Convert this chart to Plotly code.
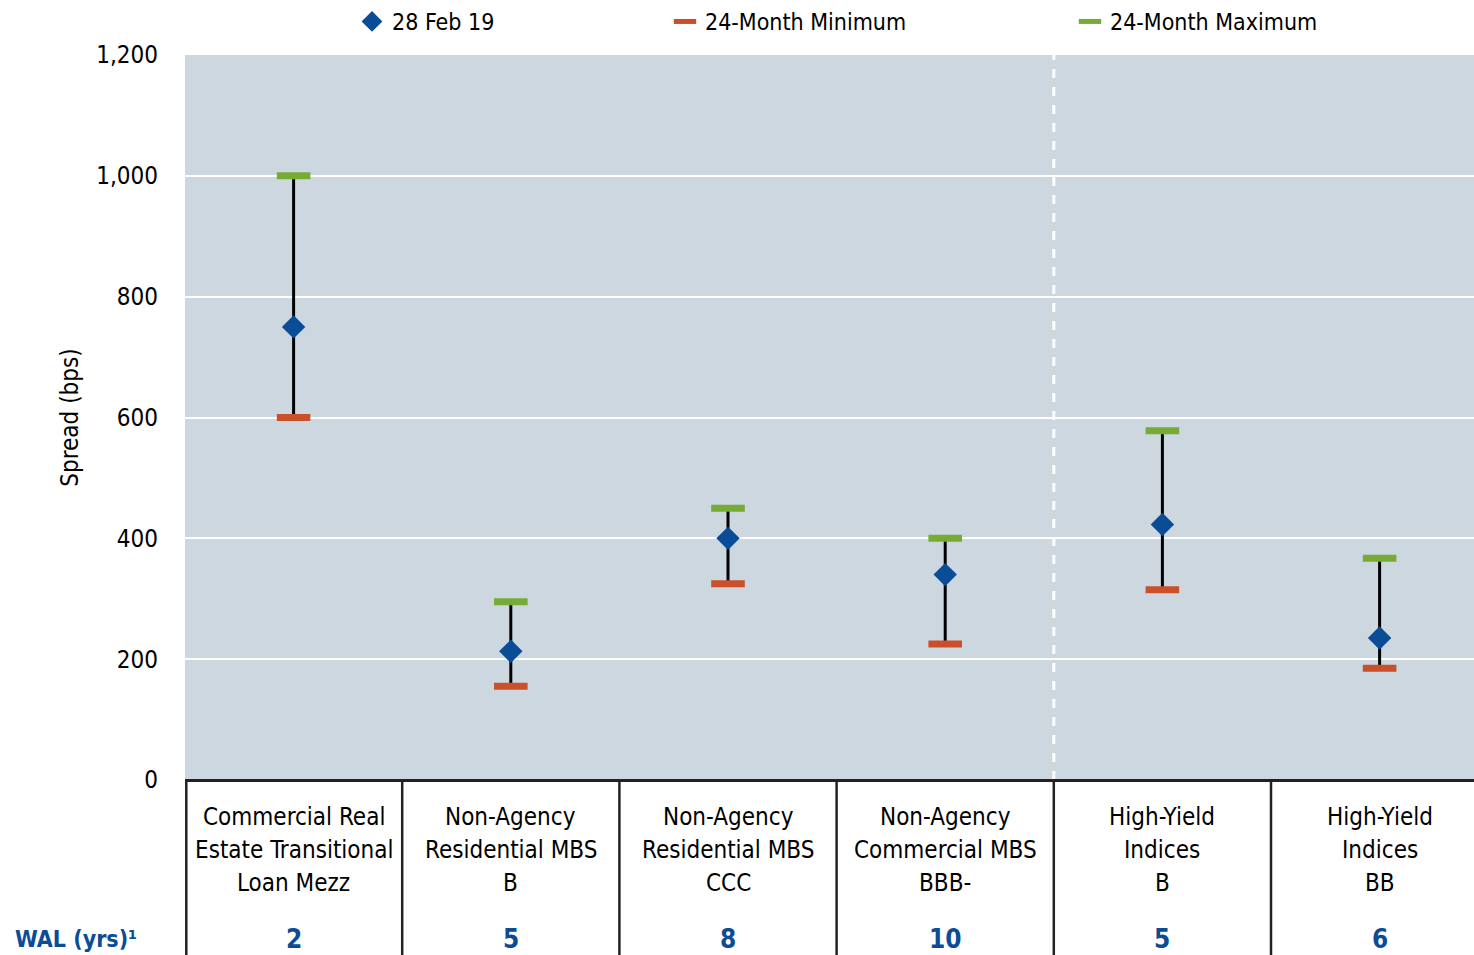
import plotly.graph_objects as go

categories = [
    ["Commercial Real", "Estate Transitional", "Loan Mezz"],
    ["Non-Agency", "Residential MBS", "B"],
    ["Non-Agency", "Residential MBS", "CCC"],
    ["Non-Agency", "Commercial MBS", "BBB-"],
    ["High-Yield", "Indices", "B"],
    ["High-Yield", "Indices", "BB"],
]
wal_years = ["2", "5", "8", "10", "5", "6"]
current_feb19 = [750, 213, 400, 340, 423, 235]
min_24m = [600, 155, 325, 225, 315, 185]
max_24m = [1000, 295, 450, 400, 578, 367]
y_ticks = [0, 200, 400, 600, 800, 1000, 1200]

FONT = "Liberation Sans Narrow, Arial Narrow, DejaVu Sans Condensed, sans-serif"
BLUE = "#0B4C96"
GREEN = "#76AB35"
ORANGE = "#C9502B"
BG = "#CCD7E0"

xs = list(range(len(categories)))

fig = go.Figure()

# range lines
lx, ly = [], []
for i in xs:
    lx += [i, i, None]
    ly += [min_24m[i], max_24m[i], None]
fig.add_trace(go.Scatter(x=lx, y=ly, mode="lines", line=dict(color="black", width=3),
                         showlegend=False, hoverinfo="skip"))

fig.add_trace(go.Scatter(x=xs, y=min_24m, mode="markers", name="24-Month Minimum",
                         marker=dict(symbol="line-ew", size=24, line=dict(color=ORANGE, width=7)),
                         legend="legend2"))
fig.add_trace(go.Scatter(x=xs, y=max_24m, mode="markers", name="24-Month Maximum",
                         marker=dict(symbol="line-ew", size=24, line=dict(color=GREEN, width=7)),
                         legend="legend3"))
fig.add_trace(go.Scatter(x=xs, y=current_feb19, mode="markers", name="28 Feb 19",
                         marker=dict(symbol="diamond", size=18, color=BLUE),
                         legend="legend"))

L, R, T, B = 185, 0, 55, 175
W, H = 1474, 955
plot_w = W - L - R
plot_h = H - T - B
unit = 217.2
x_end = -0.5 + plot_w / unit

def px_to_paper_y(p):
    return (H - B - p) / plot_h

shapes = []
# separators below axis
for i in range(len(categories)):
    shapes.append(dict(type="line", xref="x" if i > 0 else "paper", yref="paper",
                       x0=(i - 0.5) if i > 0 else 0.001, x1=(i - 0.5) if i > 0 else 0.001,
                       y0=0, y1=px_to_paper_y(H), line=dict(color="#222222", width=2.5)))
# dashed divider between securitized products and high-yield indices
shapes.append(dict(type="line", xref="x", yref="paper", x0=3.5, x1=3.5, y0=0, y1=1,
                   line=dict(color="white", width=3, dash="dash"), layer="below"))

annotations = []
line_y = [817, 850, 883]
for i, lines in enumerate(categories):
    for j, t in enumerate(lines):
        annotations.append(dict(x=i, y=px_to_paper_y(line_y[j]), xref="x", yref="paper",
                                text=t, showarrow=False, xanchor="center", yanchor="middle",
                                font=dict(family=FONT, size=24, color="black")))
    annotations.append(dict(x=i, y=px_to_paper_y(939), xref="x", yref="paper",
                            text="<b>" + wal_years[i] + "</b>", showarrow=False,
                            xanchor="center", yanchor="middle",
                            font=dict(family=FONT, size=26, color=BLUE)))
annotations.append(dict(x=(13 - L) / plot_w, y=px_to_paper_y(939), xref="paper", yref="paper",
                        text="<b>WAL (yrs)¹</b>", showarrow=False, xanchor="left",
                        yanchor="middle", font=dict(family=FONT, size=23, color=BLUE)))

def leg(xpx):
    return dict(x=(xpx - L) / plot_w, y=px_to_paper_y(21), xanchor="left", yanchor="middle",
                orientation="h", bgcolor="rgba(0,0,0,0)",
                font=dict(family=FONT, size=23, color="black"))

fig.update_layout(
    width=W, height=H,
    margin=dict(l=L, r=R, t=T, b=B),
    paper_bgcolor="white", plot_bgcolor=BG,
    font=dict(family=FONT, size=22, color="black"),
    xaxis=dict(range=[-0.5, x_end], showgrid=False, zeroline=False, showticklabels=False,
               showline=False, ticks=""),
    yaxis=dict(range=[0, 1200], tickvals=y_ticks, tickformat=",", showgrid=True,
               gridcolor="white", gridwidth=1.5, zeroline=True, zerolinecolor="#222222",
               zerolinewidth=2.5, showline=False, ticks="", ticklabelstandoff=26,
               tickfont=dict(family=FONT, size=24, color="black"),
               title=dict(text="Spread (bps)", font=dict(family=FONT, size=24, color="black"),
                          standoff=10)),
    legend=leg(352), legend2=leg(665), legend3=leg(1070),
    shapes=shapes, annotations=annotations,
)

fig.write_html("out.html", config={"displayModeBar": False},
               post_script="document.body.style.margin='0';document.body.style.overflow='hidden';")
